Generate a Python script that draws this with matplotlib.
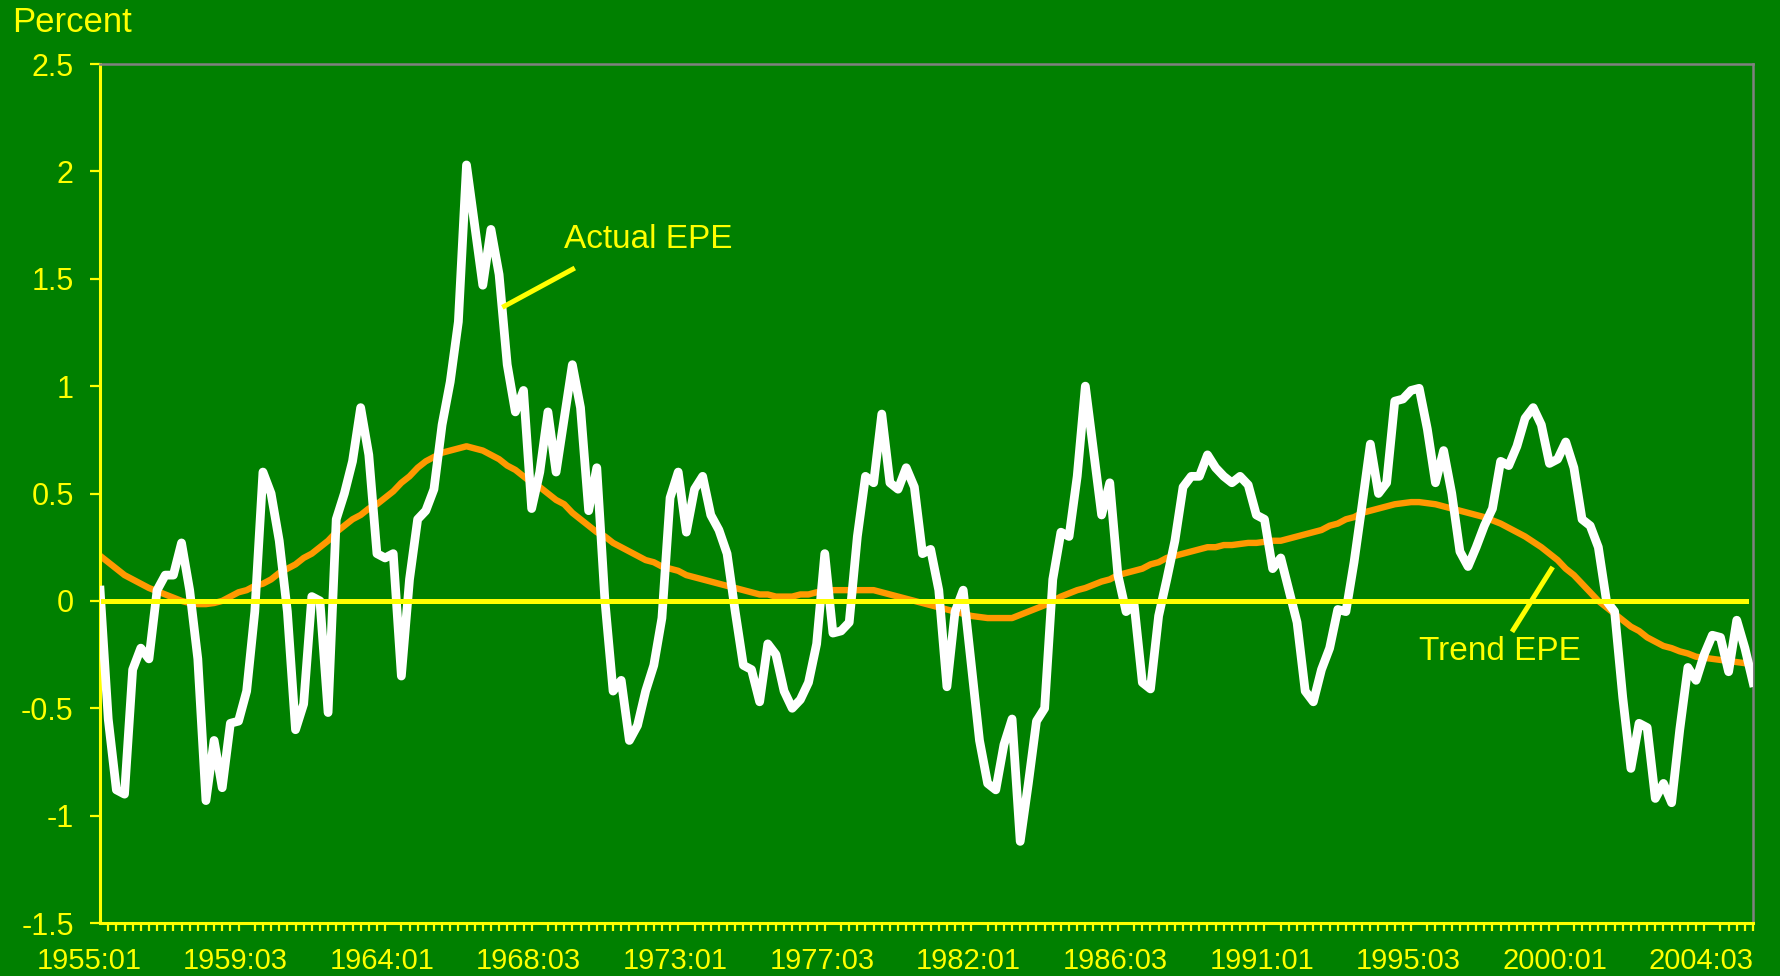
import matplotlib.pyplot as plt
from matplotlib.transforms import ScaledTranslation

plt.rcParams["font.family"] = ["Liberation Sans", "DejaVu Sans"]
plt.rcParams["axes.unicode_minus"] = False

GREEN = "#008000"
YELLOW = "#FFFF00"
ORANGE = "#FF9900"

# quarterly series, 1955:01 .. 2005:04
actual_epe = [
    0.05, -0.55, -0.88, -0.9, -0.32, -0.22, -0.27, 0.05, 0.12, 0.12,
    0.27, 0.05, -0.27, -0.93, -0.65, -0.87, -0.57, -0.56, -0.42, -0.05,
    0.6, 0.5, 0.28, -0.05, -0.6, -0.48, 0.02, 0.0, -0.52, 0.38,
    0.5, 0.65, 0.9, 0.68, 0.22, 0.2, 0.22, -0.35, 0.1, 0.38,
    0.42, 0.52, 0.82, 1.02, 1.3, 2.03, 1.75, 1.47, 1.73, 1.52,
    1.1, 0.88, 0.98, 0.43, 0.6, 0.88, 0.6, 0.85, 1.1, 0.9,
    0.42, 0.62, 0.0, -0.42,
    -0.37, -0.65, -0.58, -0.42, -0.3,
    -0.08, 0.48, 0.6, 0.32, 0.52, 0.58, 0.4, 0.33, 0.22, -0.05,
    -0.3, -0.32, -0.47, -0.2, -0.25, -0.42, -0.5, -0.46, -0.38, -0.2,
    0.22, -0.15, -0.14, -0.1, 0.3, 0.58, 0.55, 0.87, 0.55,
    0.52, 0.62, 0.53, 0.22, 0.24, 0.05, -0.4, -0.05, 0.05, -0.3,
    -0.65, -0.85, -0.88, -0.67, -0.55, -1.12, -0.85, -0.56, -0.5, 0.1,
    0.32, 0.3, 0.58, 1.0, 0.7, 0.4, 0.55, 0.12, -0.05, -0.02,
    -0.38, -0.41, -0.07, 0.1, 0.28, 0.53, 0.58, 0.58, 0.68, 0.62, 0.58,
    0.55, 0.58, 0.54, 0.4, 0.38, 0.15, 0.2, 0.05, -0.1,
    -0.42, -0.47, -0.32, -0.22, -0.04, -0.05, 0.18, 0.45, 0.73, 0.5,
    0.55, 0.93, 0.94, 0.98, 0.99, 0.8, 0.55, 0.7, 0.5, 0.23,
    0.16, 0.25, 0.35, 0.43, 0.65, 0.63, 0.72, 0.85, 0.9, 0.82,
    0.64, 0.66, 0.74, 0.62, 0.38, 0.35,
    0.25, 0.0, -0.05, -0.45, -0.78, -0.57, -0.59, -0.92, -0.85, -0.94,
    -0.6, -0.31, -0.37, -0.25, -0.16, -0.17, -0.33, -0.09, -0.22, -0.38,
]

trend_epe = [
    0.21, 0.18, 0.15, 0.12, 0.10, 0.08, 0.06, 0.045, 0.03, 0.015,
    0.0, -0.01, -0.015, -0.015, -0.01, 0.0, 0.02, 0.04, 0.05, 0.07,
    0.08, 0.10, 0.13, 0.15, 0.17, 0.20, 0.22, 0.25, 0.28, 0.32,
    0.35, 0.38, 0.40, 0.43, 0.45, 0.48, 0.51, 0.55, 0.58, 0.62,
    0.65, 0.67, 0.69, 0.70, 0.71, 0.72, 0.71, 0.70, 0.68, 0.66,
    0.63, 0.61, 0.58, 0.55, 0.53, 0.50, 0.47, 0.45, 0.41, 0.38,
    0.35, 0.32, 0.30, 0.27, 0.25, 0.23, 0.21, 0.19, 0.18, 0.16,
    0.15, 0.14, 0.12, 0.11, 0.10, 0.09, 0.08, 0.07, 0.06, 0.05,
    0.04, 0.03, 0.03, 0.02, 0.02, 0.02, 0.03, 0.03, 0.04, 0.04,
    0.05, 0.05, 0.05, 0.05, 0.05, 0.05, 0.04, 0.03, 0.02, 0.01,
    0.0, -0.01, -0.02, -0.03, -0.04, -0.05, -0.06, -0.07, -0.075, -0.08,
    -0.08, -0.08, -0.08, -0.065, -0.05, -0.035, -0.02, 0.0, 0.02, 0.035,
    0.05, 0.06, 0.075, 0.09, 0.10, 0.12, 0.13, 0.14, 0.15, 0.17,
    0.18, 0.20, 0.21, 0.22, 0.23, 0.24, 0.25, 0.25, 0.26, 0.26,
    0.265, 0.27, 0.27, 0.275, 0.28, 0.28, 0.29, 0.30, 0.31, 0.32,
    0.33, 0.35, 0.36, 0.38, 0.39, 0.41, 0.42, 0.43, 0.44, 0.45,
    0.455, 0.46, 0.46, 0.455, 0.45, 0.44, 0.43, 0.42, 0.41, 0.40,
    0.39, 0.375, 0.36, 0.34, 0.32, 0.30, 0.275, 0.25, 0.22, 0.19,
    0.15, 0.12, 0.08, 0.04, 0.0, -0.03, -0.06, -0.09, -0.12, -0.14,
    -0.17, -0.19, -0.21, -0.22, -0.235, -0.245, -0.26, -0.265, -0.27, -0.275,
    -0.28, -0.285, -0.29, -0.30,
]

# every 18th quarter gets a label
label_quarters = [0, 18, 36, 54, 72, 90, 108, 126, 144, 162, 180, 198]
x_labels = ["1955:01", "1959:03", "1964:01", "1968:03", "1973:01", "1977:03",
            "1982:01", "1986:03", "1991:01", "1995:03", "2000:01", "2004:03"]
y_ticks = [-1.5, -1, -0.5, 0, 0.5, 1, 1.5, 2, 2.5]
y_labels = ["-1.5", "-1", "-0.5", "0", "0.5", "1", "1.5", "2", "2.5"]

quarters = list(range(len(actual_epe)))

fig = plt.figure(figsize=(17.81, 9.76), dpi=100, facecolor=GREEN)
ax = fig.add_axes([0.0562, 0.0543, 0.9281, 0.8801], facecolor=GREEN)

ax.plot(quarters, trend_epe, color=ORANGE, linewidth=4.6, zorder=2)
ax.plot(quarters, actual_epe, color="white", linewidth=6.3, zorder=3)
ax.axhline(0, xmin=0.002, xmax=0.996, color=YELLOW, linewidth=3.6, zorder=4)

ax.set_yticks(y_ticks)
ax.set_yticklabels(y_labels)
ax.tick_params(axis="y", colors=YELLOW, labelsize=22, length=7, width=1.6,
               pad=12, direction="out")

ax.set_xticks(label_quarters)
ax.set_xticklabels(x_labels)
ax.set_xticks(quarters, minor=True)
ax.tick_params(axis="x", which="major", colors=YELLOW, labelsize=21, length=0,
               pad=17)
ax.tick_params(axis="x", which="minor", colors=YELLOW, length=6, width=1.6,
               direction="out")
# the source draws its date labels a little left of their quarter
shift = ScaledTranslation(-0.11, 0, fig.dpi_scale_trans)
for lab in ax.get_xticklabels():
    lab.set_transform(lab.get_transform() + shift)

ax.set_xlim(0, len(actual_epe) - 1)
ax.set_ylim(-1.5, 2.5)

for side in ["left", "bottom"]:
    ax.spines[side].set_color(YELLOW)
    ax.spines[side].set_linewidth(2.2)
for side in ["top", "right"]:
    ax.spines[side].set_color("#808080")
    ax.spines[side].set_linewidth(1.8)

fig.text(12 / 1781, 1 - 32 / 976, "Percent", color=YELLOW, fontsize=25,
         ha="left", va="baseline")

# callouts
ax.plot([49.4, 58.3], [1.367, 1.55], color=YELLOW, linewidth=3.6,
        solid_capstyle="butt", zorder=5)
ax.text(57.0, 1.643, "Actual EPE", color=YELLOW, fontsize=24,
        ha="left", va="baseline")
ax.plot([173.4, 178.4], [-0.144, 0.158], color=YELLOW, linewidth=3.6,
        solid_capstyle="butt", zorder=5)
ax.text(162.0, -0.275, "Trend EPE", color=YELLOW, fontsize=24,
        ha="left", va="baseline")

fig.savefig("out.png", dpi=100, facecolor=GREEN)
